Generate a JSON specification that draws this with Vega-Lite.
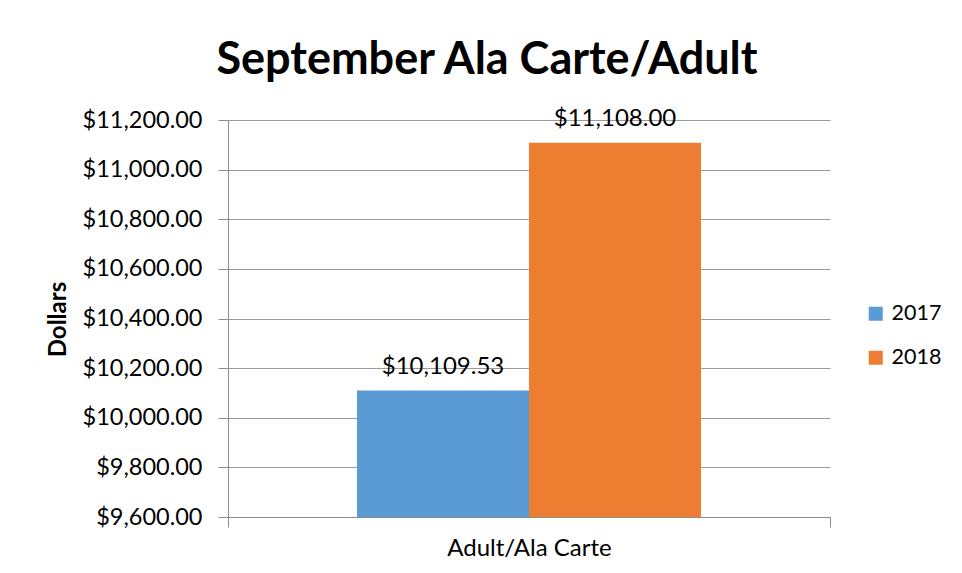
{
  "$schema": "https://vega.github.io/schema/vega-lite/v6.json",
  "width": 602,
  "height": 397,
  "autosize": {"type": "none"},
  "padding": {"left": 228, "top": 120, "right": 132, "bottom": 56},
  "background": "white",
  "title": {
    "text": "September Ala Carte/Adult",
    "font": "Lato",
    "fontWeight": "bold",
    "fontSize": 45,
    "color": "black",
    "anchor": "middle",
    "offset": 24,
    "dx": -42
  },
  "config": {"view": {"stroke": null}},
  "data": {
    "values": [
      {"category": "Adult/Ala Carte", "year": "2017", "dollars": 10109.53},
      {"category": "Adult/Ala Carte", "year": "2018", "dollars": 11108.00}
    ]
  },
  "encoding": {
    "x": {
      "field": "category",
      "type": "nominal",
      "scale": {"paddingInner": 0, "paddingOuter": 0},
      "axis": {
        "title": null,
        "labelAngle": 0,
        "tickBand": "extent",
        "tickSize": 10,
        "labelPadding": 9,
        "labelFontSize": 24,
        "labelFont": "Lato",
        "labelColor": "black",
        "domainColor": "#8c8c8c",
        "tickColor": "#8c8c8c",
        "grid": false
      }
    },
    "xOffset": {
      "field": "year",
      "scale": {"paddingInner": 0, "paddingOuter": 0.75}
    },
    "y": {
      "field": "dollars",
      "type": "quantitative",
      "scale": {"domain": [9600, 11200], "zero": false, "nice": false},
      "axis": {
        "title": "Dollars",
        "format": "$,.2f",
        "values": [9600, 9800, 10000, 10200, 10400, 10600, 10800, 11000, 11200],
        "tickSize": 10,
        "labelPadding": 16,
        "labelFontSize": 23.5,
        "labelFont": "Lato",
        "labelColor": "black",
        "domainColor": "#8c8c8c",
        "tickColor": "#8c8c8c",
        "gridColor": "#9a9a9a",
        "gridWidth": 1,
        "titleFont": "Lato",
        "titleFontWeight": "bold",
        "titleFontSize": 24,
        "titleColor": "black",
        "titleAngle": -90,
        "titleAlign": "center",
        "titleBaseline": "middle",
        "titleX": -170,
        "titleY": 199
      }
    }
  },
  "layer": [
    {
      "mark": {"type": "bar", "clip": true},
      "encoding": {
        "color": {
          "field": "year",
          "type": "nominal",
          "scale": {"domain": ["2017", "2018"], "range": ["#5B9BD5", "#ED7D31"]},
          "legend": {
            "orient": "none",
            "legendX": 637,
            "legendY": 183,
            "title": null,
            "symbolType": "square",
            "symbolSize": 196,
            "symbolStrokeWidth": 0,
            "labelFontSize": 21.5,
            "labelFont": "Lato",
            "labelColor": "black",
            "labelOffset": 5,
            "rowPadding": 21,
            "padding": 0
          }
        }
      }
    },
    {
      "mark": {
        "type": "text",
        "font": "Lato",
        "fontSize": 24,
        "color": "black",
        "baseline": "bottom",
        "dy": -12
      },
      "encoding": {
        "text": {"field": "dollars", "type": "quantitative", "format": "$,.2f"}
      }
    }
  ]
}
